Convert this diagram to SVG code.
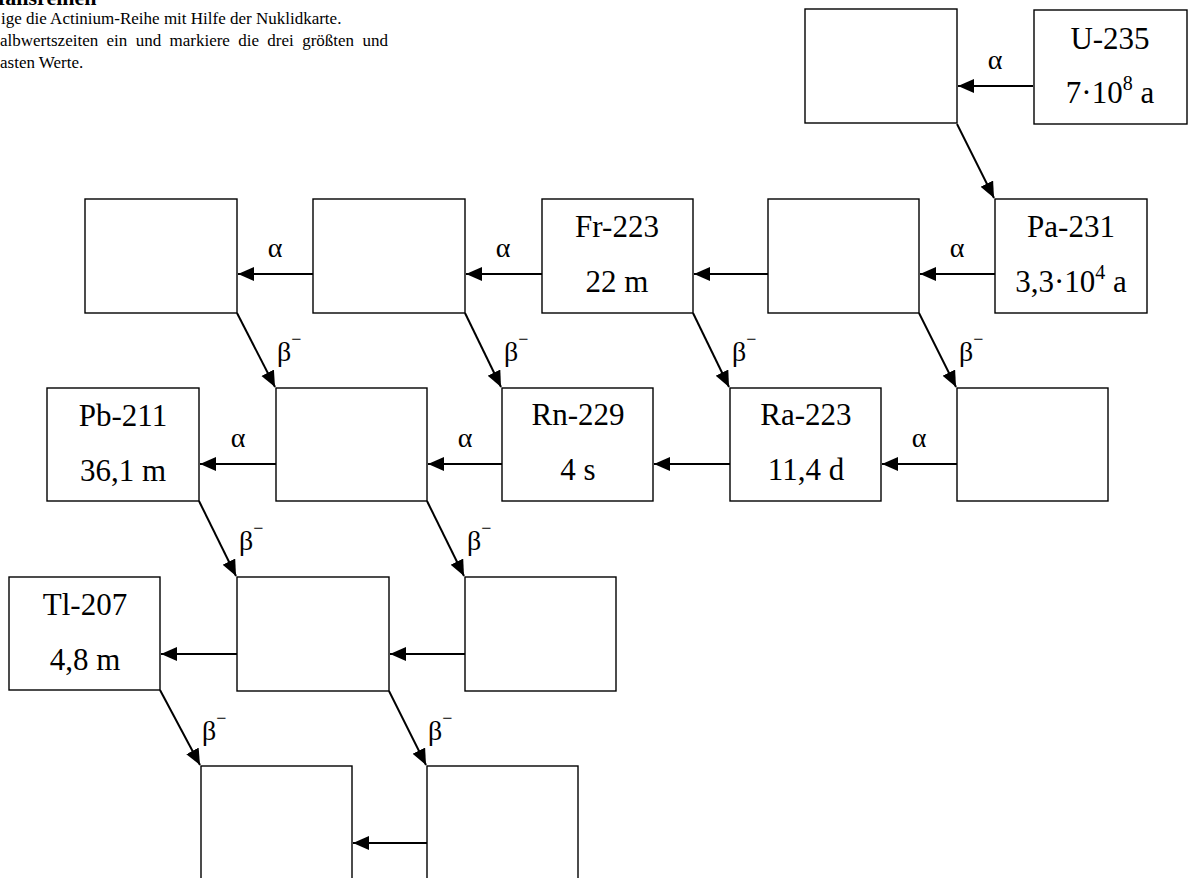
<svg xmlns="http://www.w3.org/2000/svg" width="1189" height="878" viewBox="0 0 1189 878">
  <defs>
    <style>
      .box{fill:#fff;stroke:#000;stroke-width:1.4}
      .lbl{font-family:"Liberation Serif","Times New Roman",serif;font-size:31px;text-anchor:middle;fill:#000}
      .sup{font-size:20px}
      #connectors line{stroke:#000;stroke-width:2;marker-end:url(#ah)}
      .sym{font-family:"Liberation Serif","Times New Roman",serif;font-size:28px;fill:#000}
      .a{text-anchor:middle}
      .mn{font-size:18px}
      .head{font-family:"Liberation Serif","Times New Roman",serif;font-size:17px;fill:#000}
      .title{font-family:"Liberation Serif","Times New Roman",serif;font-size:22px;font-weight:bold;fill:#000}
    </style>
    <marker id="ah" markerUnits="userSpaceOnUse" markerWidth="17" markerHeight="15" refX="16" refY="7" orient="auto">
      <path d="M0,0L16,7L0,14z" fill="#000"/>
    </marker>
  </defs>
  <rect width="1189" height="878" fill="#fff"/>

  <!-- heading and task text (left edge runs off the page) -->
  <g id="heading">
    <text class="title" x="-2" y="5">fallsreihen</text>
    <text class="head" x="1" y="24">ige die Actinium-Reihe mit Hilfe der Nuklidkarte.</text>
    <text class="head" x="0" y="46" word-spacing="4.1">albwertszeiten ein und markiere die drei größten und</text>
    <text class="head" x="0" y="68">asten Werte.</text>
  </g>

  <!-- connectors: horizontal = alpha decay, diagonal = beta decay -->
  <g id="connectors">
    <line x1="1033" y1="86" x2="958" y2="86"/>
    <line x1="957" y1="124" x2="994" y2="198"/>
    <line x1="995" y1="274" x2="920" y2="274"/>
    <line x1="768" y1="274" x2="694" y2="274"/>
    <line x1="542" y1="274" x2="466" y2="274"/>
    <line x1="313" y1="274" x2="238" y2="274"/>
    <line x1="237" y1="313" x2="275" y2="387"/>
    <line x1="465" y1="313" x2="501" y2="387"/>
    <line x1="693" y1="313" x2="729" y2="387"/>
    <line x1="919" y1="313" x2="956" y2="387"/>
    <line x1="957" y1="464" x2="882" y2="464"/>
    <line x1="730" y1="464" x2="654" y2="464"/>
    <line x1="502" y1="464" x2="428" y2="464"/>
    <line x1="276" y1="464" x2="200" y2="464"/>
    <line x1="199" y1="501" x2="236" y2="576"/>
    <line x1="427" y1="501" x2="464" y2="576"/>
    <line x1="465" y1="654" x2="390" y2="654"/>
    <line x1="237" y1="654" x2="161" y2="654"/>
    <line x1="160" y1="690" x2="200" y2="765"/>
    <line x1="389" y1="691" x2="426" y2="765"/>
    <line x1="427" y1="843" x2="353" y2="843"/>
  </g>

  <!-- decay labels -->
  <g id="decay-labels">
    <text class="sym a" x="995" y="69">α</text>
    <text class="sym a" x="957" y="257">α</text>
    <text class="sym a" x="503" y="257">α</text>
    <text class="sym a" x="275" y="257">α</text>
    <text class="sym a" x="919" y="447">α</text>
    <text class="sym a" x="465" y="447">α</text>
    <text class="sym a" x="238" y="447">α</text>
    <text class="sym" x="277" y="361">β<tspan class="mn" dy="-16">−</tspan></text>
    <text class="sym" x="504" y="361">β<tspan class="mn" dy="-16">−</tspan></text>
    <text class="sym" x="732" y="361">β<tspan class="mn" dy="-16">−</tspan></text>
    <text class="sym" x="959" y="361">β<tspan class="mn" dy="-16">−</tspan></text>
    <text class="sym" x="239" y="550">β<tspan class="mn" dy="-16">−</tspan></text>
    <text class="sym" x="467" y="550">β<tspan class="mn" dy="-16">−</tspan></text>
    <text class="sym" x="202" y="740">β<tspan class="mn" dy="-16">−</tspan></text>
    <text class="sym" x="428" y="740">β<tspan class="mn" dy="-16">−</tspan></text>
  </g>

  <!-- row 1 -->
  <g id="n-r1-blank"><rect class="box" x="805" y="9" width="152" height="114"/></g>
  <g id="n-u235">
    <rect class="box" x="1034" y="10" width="153" height="114"/>
    <text class="lbl" x="1110" y="49">U-235</text>
    <text class="lbl" x="1110" y="103">7·10<tspan class="sup" dy="-13">8</tspan><tspan dy="13"> a</tspan></text>
  </g>

  <!-- row 2 -->
  <g id="n-r2-blank1"><rect class="box" x="85" y="199" width="152" height="114"/></g>
  <g id="n-r2-blank2"><rect class="box" x="313" y="199" width="152" height="114"/></g>
  <g id="n-fr223">
    <rect class="box" x="542" y="199" width="151" height="114"/>
    <text class="lbl" x="617" y="237">Fr-223</text>
    <text class="lbl" x="617" y="292">22 m</text>
  </g>
  <g id="n-r2-blank3"><rect class="box" x="768" y="199" width="151" height="114"/></g>
  <g id="n-pa231">
    <rect class="box" x="995" y="199" width="152" height="114"/>
    <text class="lbl" x="1071" y="237">Pa-231</text>
    <text class="lbl" x="1071" y="292">3,3·10<tspan class="sup" dy="-13">4</tspan><tspan dy="13"> a</tspan></text>
  </g>

  <!-- row 3 -->
  <g id="n-pb211">
    <rect class="box" x="47" y="388" width="152" height="113"/>
    <text class="lbl" x="123" y="426">Pb-211</text>
    <text class="lbl" x="123" y="481">36,1 m</text>
  </g>
  <g id="n-r3-blank1"><rect class="box" x="276" y="388" width="151" height="113"/></g>
  <g id="n-rn229">
    <rect class="box" x="502" y="388" width="151" height="113"/>
    <text class="lbl" x="578" y="425">Rn-229</text>
    <text class="lbl" x="578" y="480">4 s</text>
  </g>
  <g id="n-ra223">
    <rect class="box" x="730" y="388" width="151" height="113"/>
    <text class="lbl" x="806" y="425">Ra-223</text>
    <text class="lbl" x="806" y="480">11,4 d</text>
  </g>
  <g id="n-r3-blank2"><rect class="box" x="957" y="388" width="151" height="113"/></g>

  <!-- row 4 -->
  <g id="n-tl207">
    <rect class="box" x="9" y="577" width="151" height="113"/>
    <text class="lbl" x="85" y="615">Tl-207</text>
    <text class="lbl" x="85" y="670">4,8 m</text>
  </g>
  <g id="n-r4-blank1"><rect class="box" x="237" y="577" width="152" height="114"/></g>
  <g id="n-r4-blank2"><rect class="box" x="465" y="577" width="151" height="114"/></g>

  <!-- row 5 (runs past the bottom edge) -->
  <g id="n-r5-blank1"><rect class="box" x="201" y="766" width="151" height="120"/></g>
  <g id="n-r5-blank2"><rect class="box" x="427" y="766" width="151" height="120"/></g>
</svg>
